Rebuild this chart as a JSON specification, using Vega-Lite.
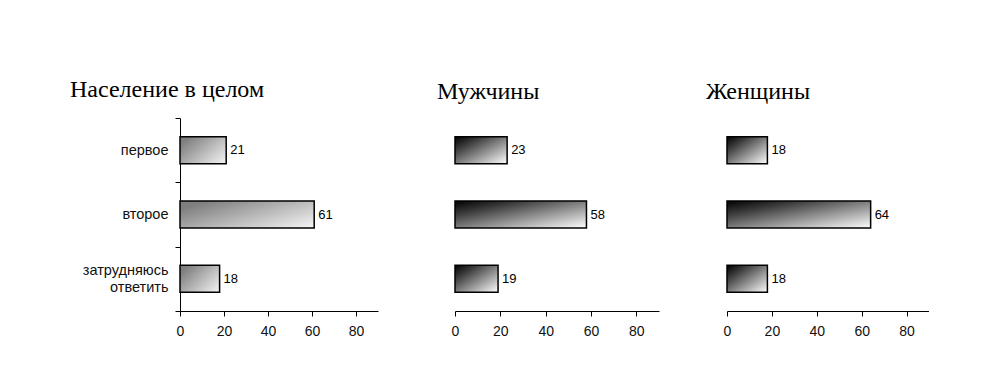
{
  "$schema": "https://vega.github.io/schema/vega-lite/v6.json",
  "background": "white",
  "padding": {"left": 70, "top": 78, "right": 0, "bottom": 0},
  "config": {
    "view": {"stroke": null},
    "axis": {"domainColor": "black", "tickColor": "black", "labelColor": "#111", "labelFont": "Liberation Sans", "grid": false, "title": null}
  },
  "datasets": {
    "survey": [
      {"group": "Население в целом", "answer": "первое", "value": 21},
      {"group": "Население в целом", "answer": "второе", "value": 61},
      {"group": "Население в целом", "answer": "затрудняюсь ответить", "value": 18},
      {"group": "Мужчины", "answer": "первое", "value": 23},
      {"group": "Мужчины", "answer": "второе", "value": 58},
      {"group": "Мужчины", "answer": "затрудняюсь ответить", "value": 19},
      {"group": "Женщины", "answer": "первое", "value": 18},
      {"group": "Женщины", "answer": "второе", "value": 64},
      {"group": "Женщины", "answer": "затрудняюсь ответить", "value": 18}
    ]
  },
  "spacing": 59,
  "hconcat": [
    {
      "width": 198, "height": 193,
      "title": {"text": "Население в целом", "anchor": "start", "frame": "group", "dx": -110, "baseline": "alphabetic", "offset": -11, "font": "Liberation Serif", "fontSize": 24, "fontWeight": "normal", "color": "black"},
      "data": {"name": "survey"},
      "transform": [{"filter": "datum.group === 'Население в целом'"}],
      "encoding": {
        "y": {"field": "answer", "type": "nominal", "sort": ["первое", "второе", "затрудняюсь ответить"],
              "scale": {"paddingInner": 0, "paddingOuter": 0},
              "axis": {"tickBand": "extent", "tickSize": 5, "labelPadding": 7, "labelFontSize": 14.5, "labelExpr": "split(datum.label, ' ')", "labelLineHeight": 17,
                       "labelOffset": {"condition": {"test": "datum.value === 'затрудняюсь ответить'", "value": -8.5}, "value": 0}}},
        "x": {"field": "value", "type": "quantitative", "scale": {"domain": [0, 90]},
              "axis": {"values": [0, 20, 40, 60, 80], "tickSize": 5, "labelPadding": 8, "labelFontSize": 14, "labelFlush": false}}
      },
      "layer": [
        {"mark": {"type": "bar", "height": {"band": 0.42}, "stroke": "black", "strokeWidth": 1.5,
                  "fill": {"gradient": "linear", "x1": 0, "y1": 0.3, "x2": 1, "y2": 1, "stops": [{"offset": 0, "color": "#7f7f7f"}, {"offset": 1, "color": "#f6f6f6"}]}}},
        {"mark": {"type": "text", "align": "left", "dx": 4, "font": "Liberation Sans", "fontSize": 13, "color": "black"},
         "encoding": {"text": {"field": "value", "type": "quantitative"}}}
      ]
    },
    {
      "spacing": 47,
      "hconcat": [
        {
          "width": 204, "height": 193,
          "title": {"text": "Мужчины", "anchor": "start", "frame": "group", "dx": -18, "baseline": "alphabetic", "offset": -5, "font": "Liberation Serif", "fontSize": 24, "fontWeight": "normal", "color": "black"},
          "data": {"name": "survey"},
          "transform": [{"filter": "datum.group === 'Мужчины'"}],
          "encoding": {
            "y": {"field": "answer", "type": "nominal", "sort": ["первое", "второе", "затрудняюсь ответить"],
                  "scale": {"paddingInner": 0, "paddingOuter": 0}, "axis": null},
            "x": {"field": "value", "type": "quantitative", "scale": {"domain": [0, 90]},
                  "axis": {"values": [0, 20, 40, 60, 80], "tickSize": 5, "labelPadding": 8, "labelFontSize": 14, "labelFlush": false}}
          },
          "layer": [
            {"mark": {"type": "bar", "height": {"band": 0.42}, "stroke": "black", "strokeWidth": 1.5,
                      "fill": {"gradient": "linear", "x1": 0, "y1": 0, "x2": 1, "y2": 1, "stops": [{"offset": 0, "color": "#000000"}, {"offset": 0.25, "color": "#3a3a3a"}, {"offset": 1, "color": "#ffffff"}]}}},
            {"mark": {"type": "text", "align": "left", "dx": 4, "font": "Liberation Sans", "fontSize": 13, "color": "black"},
             "encoding": {"text": {"field": "value", "type": "quantitative"}}}
          ]
        },
        {
          "width": 202, "height": 193,
          "title": {"text": "Женщины", "anchor": "start", "frame": "group", "dx": -21, "baseline": "alphabetic", "offset": -5, "font": "Liberation Serif", "fontSize": 24, "fontWeight": "normal", "color": "black"},
          "data": {"name": "survey"},
          "transform": [{"filter": "datum.group === 'Женщины'"}],
          "encoding": {
            "y": {"field": "answer", "type": "nominal", "sort": ["первое", "второе", "затрудняюсь ответить"],
                  "scale": {"paddingInner": 0, "paddingOuter": 0}, "axis": null},
            "x": {"field": "value", "type": "quantitative", "scale": {"domain": [0, 90]},
                  "axis": {"values": [0, 20, 40, 60, 80], "tickSize": 5, "labelPadding": 8, "labelFontSize": 14, "labelFlush": false}}
          },
          "layer": [
            {"mark": {"type": "bar", "height": {"band": 0.42}, "stroke": "black", "strokeWidth": 1.5,
                      "fill": {"gradient": "linear", "x1": 0, "y1": 0, "x2": 1, "y2": 1, "stops": [{"offset": 0, "color": "#000000"}, {"offset": 0.25, "color": "#3a3a3a"}, {"offset": 1, "color": "#ffffff"}]}}},
            {"mark": {"type": "text", "align": "left", "dx": 4, "font": "Liberation Sans", "fontSize": 13, "color": "black"},
             "encoding": {"text": {"field": "value", "type": "quantitative"}}}
          ]
        }
      ]
    }
  ]
}
